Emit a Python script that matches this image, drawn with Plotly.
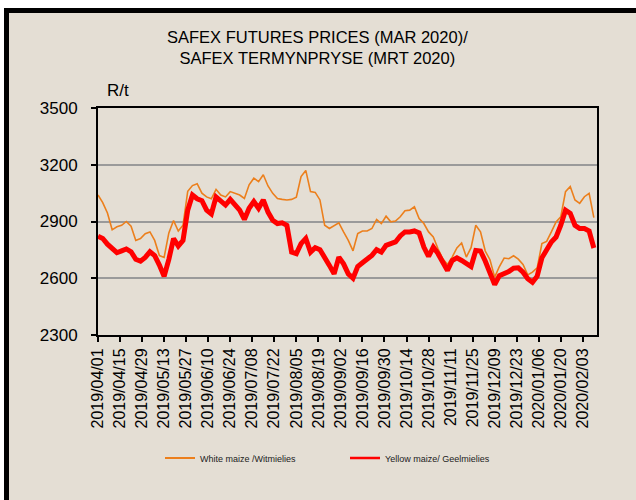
import pandas as pd
import plotly.graph_objects as go

# ---- data ----
dates = pd.date_range("2019-04-01", periods=106, freq="3D")

white_maize = [
    3040, 3000, 2945, 2856, 2872, 2880, 2900, 2875, 2800, 2810,
    2835, 2845, 2800, 2720, 2710, 2840, 2905, 2850, 2880, 3060,
    3090, 3100, 3050, 3030, 3020, 3070, 3040, 3030, 3058, 3049,
    3040, 3022, 3094, 3129, 3111, 3147, 3088, 3049, 3022, 3017,
    3014, 3017, 3028, 3138, 3170, 3058, 3054, 3014, 2880, 2863,
    2880, 2893, 2845, 2800, 2745, 2836, 2850, 2850, 2863, 2911,
    2889, 2928, 2898, 2902, 2925, 2957, 2960, 2978, 2916, 2889,
    2845, 2818, 2756, 2703, 2673, 2712, 2760, 2786, 2712, 2762,
    2880, 2845, 2744, 2698, 2606, 2662, 2707, 2703, 2719, 2701,
    2673, 2618, 2632, 2655, 2783, 2795, 2845, 2898, 2925, 3058,
    3085, 3014, 2996, 3031, 3049, 2920,
]

yellow_maize = [
    2822, 2810, 2780, 2760, 2735, 2745, 2755, 2740, 2700, 2690,
    2710, 2740, 2720, 2670, 2610, 2700, 2810, 2770, 2800, 2960,
    3040, 3020, 3010, 2960, 2940, 3030, 3010, 2987, 3017, 2987,
    2960, 2911, 2970, 3005, 2970, 3014, 2950, 2907, 2889, 2893,
    2880, 2738, 2730, 2783, 2810, 2738, 2762, 2751, 2703, 2668,
    2623, 2712, 2676, 2623, 2600, 2662, 2682, 2700, 2721, 2751,
    2738, 2774, 2786, 2792, 2824, 2845, 2845, 2850, 2840, 2765,
    2715, 2765, 2730, 2685, 2641, 2694, 2708, 2694, 2676, 2662,
    2747, 2744, 2691, 2627, 2566, 2614, 2623, 2636, 2653, 2655,
    2632, 2597, 2579, 2611, 2708, 2751, 2792, 2818, 2880, 2960,
    2943, 2880, 2863, 2863, 2850, 2760,
]

tick_labels = [
    "2019/04/01", "2019/04/15", "2019/04/29", "2019/05/13", "2019/05/27",
    "2019/06/10", "2019/06/24", "2019/07/08", "2019/07/22", "2019/08/05",
    "2019/08/19", "2019/09/02", "2019/09/16", "2019/09/30", "2019/10/14",
    "2019/10/28", "2019/11/11", "2019/11/25", "2019/12/09", "2019/12/23",
    "2020/01/06", "2020/01/20", "2020/02/03",
]

series_names = ["White maize /Witmielies", "Yellow maize/ Geelmielies"]

# ---- layout geometry (pixels) ----
W, H = 636, 500
L, R, T, B = 98, 597, 108, 335
PW, PH = R - L, B - T


def px(x):
    return (x - L) / PW


def py(y):
    return (B - y) / PH


BG = "#E4DED4"
ORANGE = "#EC7F1C"
RED = "#FF0000"
FONT = "Liberation Sans, Arial, sans-serif"

fig = go.Figure()
fig.add_trace(go.Scatter(
    x=dates, y=white_maize, mode="lines", name=series_names[0],
    line=dict(color=ORANGE, width=1.6), legendgroup="w", showlegend=False,
))
fig.add_trace(go.Scatter(
    x=dates, y=yellow_maize, mode="lines", name=series_names[1],
    line=dict(color=RED, width=5), legendgroup="y", showlegend=False,
))
# legend entries (thin line samples, as in the original legend)
fig.add_trace(go.Scatter(
    x=[None], y=[None], mode="lines", name=series_names[0],
    line=dict(color=ORANGE, width=2), legendgroup="w", showlegend=True,
))
fig.add_trace(go.Scatter(
    x=[None], y=[None], mode="lines", name=series_names[1],
    line=dict(color=RED, width=2.5), legendgroup="y", showlegend=True,
))

tick_vals = [pd.Timestamp(t.replace("/", "-")) for t in tick_labels]

fig.update_xaxes(
    type="date",
    range=[pd.Timestamp("2019-04-01"), pd.Timestamp("2020-02-12")],
    tickvals=tick_vals, ticktext=tick_labels, tickangle=-90,
    ticks="outside", ticklen=5, tickwidth=1.5, tickcolor="black",
    showline=True, linecolor="black", linewidth=2, mirror=True,
    showgrid=False, zeroline=False,
    tickfont=dict(family=FONT, size=16, color="black"),
)
fig.update_yaxes(
    range=[2300, 3500], dtick=300, tick0=2300,
    ticks="outside", ticklen=5, tickwidth=1.5, tickcolor="black",
    showline=True, linecolor="black", linewidth=2, mirror=True,
    showgrid=True, gridcolor="#9A9A9A", gridwidth=2, zeroline=False,
    tickfont=dict(family=FONT, size=17, color="black"),
    ticklabelstandoff=10,
)

shapes = [
    # white page strips and black frame at top/left
    dict(type="rect", xref="paper", yref="paper", x0=px(0), x1=px(W), y0=py(0), y1=py(8),
         fillcolor="white", line_width=0, layer="below"),
    dict(type="rect", xref="paper", yref="paper", x0=px(0), x1=px(4), y0=py(0), y1=py(H),
         fillcolor="white", line_width=0, layer="below"),
    dict(type="rect", xref="paper", yref="paper", x0=px(4), x1=px(W), y0=py(8), y1=py(13),
         fillcolor="black", line_width=0, layer="below"),
    dict(type="rect", xref="paper", yref="paper", x0=px(4), x1=px(9), y0=py(8), y1=py(H),
         fillcolor="black", line_width=0, layer="below"),
]

annotations = [
    dict(xref="paper", yref="paper", x=px(317), y=py(48), xanchor="center", yanchor="middle",
         text="SAFEX FUTURES PRICES (MAR 2020)/<br>SAFEX TERMYNPRYSE (MRT 2020)",
         showarrow=False, align="center",
         font=dict(family=FONT, size=16.5, color="black")),
    dict(xref="paper", yref="paper", x=px(105), y=py(90), xanchor="left", yanchor="middle",
         text="R/t", showarrow=False,
         font=dict(family=FONT, size=17, color="black")),
]

fig.update_layout(
    width=W, height=H,
    margin=dict(l=L, r=W - R, t=T, b=H - B, pad=0),
    paper_bgcolor=BG, plot_bgcolor=BG,
    shapes=shapes, annotations=annotations,
    showlegend=True,
    legend=dict(
        orientation="h", x=px(160), y=py(458), xanchor="left", yanchor="middle",
        bgcolor="rgba(0,0,0,0)", entrywidth=140, entrywidthmode="pixels",
        font=dict(family=FONT, size=9, color="#222222"),
    ),
)

fig.write_html(
    "out.html",
    config={"displayModeBar": False},
    post_script="document.body.style.margin='0';",
)
